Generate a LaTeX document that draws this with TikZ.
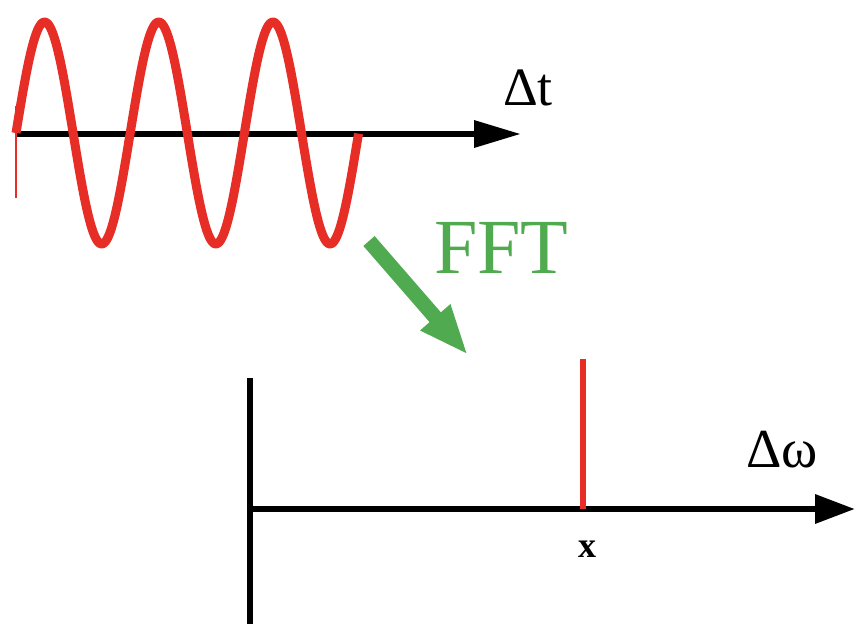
\documentclass[tikz,border=0pt]{standalone}
\usepackage{fontspec}
\setmainfont{Liberation Serif}
\usetikzlibrary{arrows.meta}
\definecolor{sigred}{RGB}{230,45,38}
\definecolor{fftgreen}{RGB}{80,170,80}
\tikzset{
  axisline/.style={line width=6.5pt, black},
  sigline/.style={line width=9pt, sigred, line join=round},
  lbl/.style={inner sep=0pt, font=\fontsize{#1}{#1}\selectfont},
}
\begin{document}
\begin{tikzpicture}[x=1pt,y=-1pt]
\useasboundingbox (0,0) rectangle (855,624);
% coordinates
\coordinate (tstart) at (16,134);
\coordinate (tend) at (521,134);
\coordinate (wstart) at (247,509);
\coordinate (wend) at (855,509);
\coordinate (vtop) at (250,378);
\coordinate (vbot) at (250,624);
\coordinate (peakbase) at (583,509);
\coordinate (peaktop) at (583,359);
\coordinate (gtail) at (369,241);
\coordinate (gtip) at (468,355);
% top: time signal
\draw[axisline, -{Triangle[length=47pt,width=26pt]}] (tstart) -- (tend);
\draw[sigred, line width=2pt] (16,106) -- (16,198);
\draw[sigline] plot[domain=16:358.5, samples=240] (\x, {133-111*sin(((\x-16)/114.2)*360)});
\node[lbl=54, anchor=base west] (dt) at (503,105) {Δt};
% FFT arrow
\draw[fftgreen, line width=15pt, -{Triangle[length=50pt,width=36pt]}] (gtail) -- (gtip);
\node[lbl=78, text=fftgreen, anchor=base west] (fft) at (434,273) {FFT};
% bottom: frequency domain
\draw[axisline] (vtop) -- (vbot);
\draw[axisline, -{Triangle[length=40pt,width=28pt]}] (wstart) -- (wend);
\draw[sigred, line width=6.5pt] (peakbase) -- (peaktop);
\node[lbl=55, anchor=base west] (dw) at (746,467) {Δω};
\node[lbl=36, font=\fontsize{36}{36}\selectfont\bfseries, anchor=base] (xl) at (587,557) {x};
\end{tikzpicture}
\end{document}
